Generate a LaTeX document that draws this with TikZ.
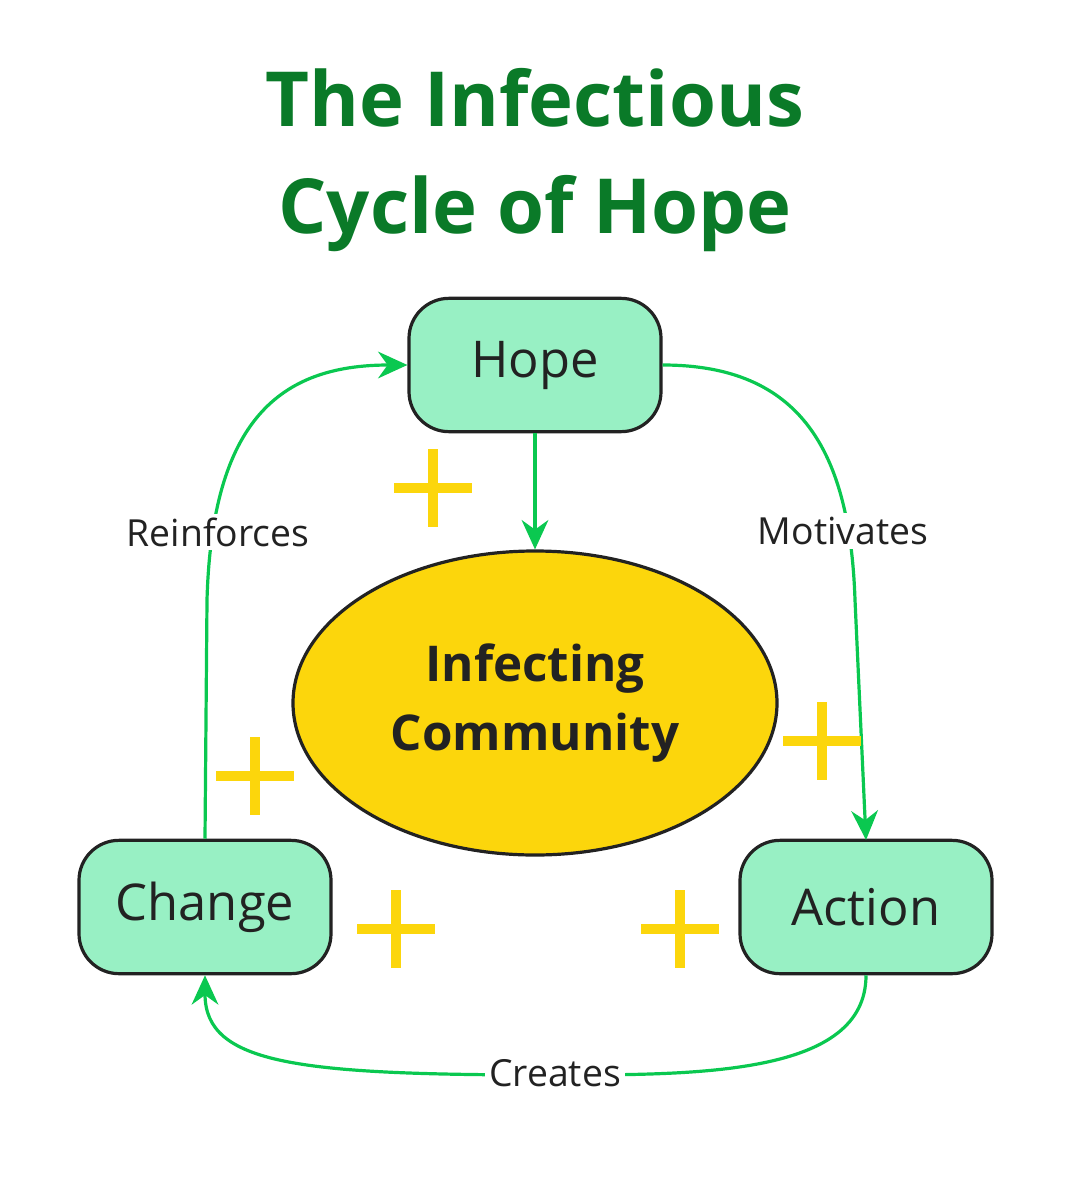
\documentclass[tikz,border=0pt]{standalone}
\usepackage{fontspec}
\setmainfont{Open Sans}
\usetikzlibrary{shapes.geometric,arrows.meta}
\definecolor{tgreen}{RGB}{10,122,40}
\definecolor{boxfill}{RGB}{152,240,196}
\definecolor{ellfill}{RGB}{252,214,12}
\definecolor{arr}{RGB}{10,200,80}
\definecolor{plus}{RGB}{252,214,12}
\definecolor{ink}{RGB}{34,34,34}
\tikzset{
 box/.style={draw=ink,line width=2.4pt,fill=boxfill,rounded corners=30pt,minimum width=189pt,minimum height=100pt,font=\fontsize{38}{42}\selectfont,text=ink},
 con/.style={draw=arr,line width=2.4pt,-{Stealth[length=22pt,width=20pt]}},
 lab/.style={fill=white,font=\fontsize{28}{30}\selectfont,text=ink,inner sep=3pt},
 pl/.style={draw=plus,line width=7.5pt},
}
\newcommand{\plusat}[2]{\draw[pl] (#1-39,#2)--(#1+39,#2); \draw[pl] (#1,#2-39)--(#1,#2+39);}
\begin{document}
\begin{tikzpicture}[x=0.75pt,y=-0.75pt]
\useasboundingbox (0,0) rectangle (1080,1202);
\node[font=\bfseries\fontsize{57}{80}\selectfont,text=tgreen,align=center] (title) at (535,160) {The Infectious\\Cycle of Hope};
\node[box] (hope) at (535,365) {Hope};
\node[box] (change) at (205,907) {Change};
\node[box] (action) at (866,907) {Action};
\node[ellipse,draw=ink,line width=2.4pt,fill=ellfill,minimum width=363pt,minimum height=228pt,align=center,font=\bfseries\fontsize{37}{52}\selectfont,text=ink] (comm) at (535,703) {Infecting\\Community};
\draw[con] (hope.south) -- (comm.north);
\draw[con] (hope.east) .. controls (800,365) and (850,450) .. (855,600) -- (866,840);
\node[lab] (mot) at (843,531) {Motivates};
\draw[con] (action.south) .. controls (866,1075) and (700,1075) .. (555,1075) .. controls (300,1075) and (205,1065) .. (change.south);
\node[lab] (cre) at (555,1073) {Creates};
\draw[con] (change.north) -- (207,600) .. controls (212,420) and (280,365) .. (hope.west);
\node[lab] (rei) at (218,532) {Reinforces};
\plusat{433}{488}
\plusat{255}{776}
\plusat{396}{929}
\plusat{822}{741}
\plusat{680}{929}
\end{tikzpicture}
\end{document}
